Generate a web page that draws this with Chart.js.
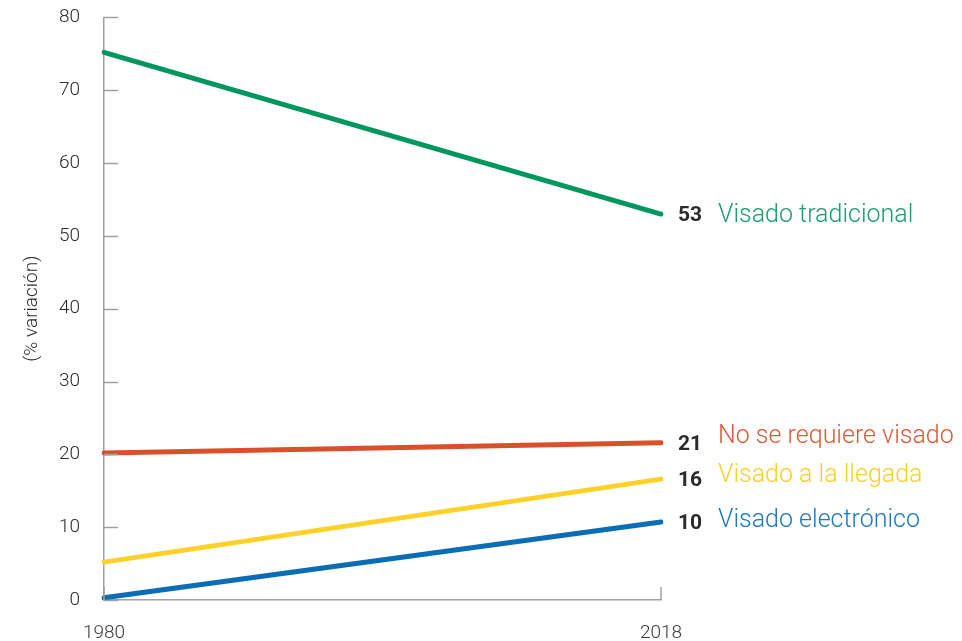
<!DOCTYPE html>
<html>
<head>
<meta charset="utf-8">
<script src="https://cdn.jsdelivr.net/npm/chart.js@4/dist/chart.umd.min.js"></script>
<style>
  html, body { margin: 0; padding: 0; background: #fff; overflow: hidden; }
  #clip { width: 962px; height: 641px; overflow: hidden; position: relative; }
  #wrap { width: 962px; height: 659px; position: absolute; top: -18px; left: 0; }
</style>
</head>
<body>
<div id="clip"><div id="wrap"><canvas id="visa-chart"></canvas></div></div>
<script>
// ── Data ────────────────────────────────────────────────────────────────────
const years       = ['1980', '2018'];
const tradicional = [75.2, 53.0];
const noRequiere  = [20.2, 21.6];
const llegada     = [5.2, 16.6];
const electronico = [0.3, 10.7];

const seriesNames  = ['Visado tradicional', 'No se requiere visado', 'Visado a la llegada', 'Visado electrónico'];
const endLabels    = ['53', '21', '16', '10'];
const lineColors   = ['#00975f', '#d9512c', '#fdd12a', '#0a6db5'];
const textColors   = ['#1c9d6c', '#dc5a36', '#f8cf2c', '#1d78c0'];

const FONT = 'Roboto, "Liberation Sans", Arial, sans-serif';

// inward tick marks + end labels
const decorPlugin = {
  id: 'decor',
  afterDraw(chart) {
    const { ctx, chartArea } = chart;
    const y = chart.scales.y, x = chart.scales.x;
    ctx.save();
    ctx.strokeStyle = '#a0a0a0';
    ctx.lineWidth = 1.5;
    y.ticks.forEach(t => {
      const py = Math.round(y.getPixelForValue(t.value)) + 0.5;
      ctx.beginPath();
      ctx.moveTo(chartArea.left, py);
      ctx.lineTo(chartArea.left + 14, py);
      ctx.stroke();
    });
    years.forEach((_, i) => {
      const px = Math.round(x.getPixelForValue(i));
      ctx.beginPath();
      ctx.moveTo(px, chartArea.bottom);
      ctx.lineTo(px, chartArea.bottom - 13);
      ctx.stroke();
    });

    // labels at line ends
    const nudges = [2, -6, -3, -1];
    chart.data.datasets.forEach((ds, i) => {
      const meta = chart.getDatasetMeta(i);
      const pt = meta.data[meta.data.length - 1];
      ctx.textBaseline = 'middle';
      ctx.textAlign = 'left';
      ctx.font = 'bold 21px ' + FONT;
      ctx.fillStyle = '#2b2b2b';
      ctx.fillText(endLabels[i], pt.x + 17, pt.y + 2);
      ctx.font = '300 25px ' + FONT;
      ctx.fillStyle = textColors[i];
      ctx.fillText(seriesNames[i], pt.x + 57, pt.y + nudges[i]);
    });
    ctx.restore();
  }
};

const ctx = document.getElementById('visa-chart').getContext('2d');
new Chart(ctx, {
  type: 'line',
  data: {
    labels: years,
    datasets: [tradicional, noRequiere, llegada, electronico].map((data, i) => ({
      label: seriesNames[i],
      data,
      borderColor: lineColors[i],
      borderWidth: 5,
      borderCapStyle: 'round',
      pointRadius: 0,
      tension: 0,
      fill: false,
    })),
  },
  options: {
    responsive: true,
    maintainAspectRatio: false,
    animation: false,
    layout: { padding: { top: 0, right: 301, bottom: 0, left: 0 } },
    plugins: {
      legend: { display: false },
      tooltip: { enabled: false },
    },
    scales: {
      x: {
        offset: false,
        afterFit: s => { s.height = 41; },
        grid: { display: false, drawTicks: false },
        border: { display: true, color: '#a0a0a0', width: 1.5 },
        ticks: { color: '#3a3a3a', padding: 22, maxRotation: 0, font: { family: FONT, size: 19, weight: '300' } },
      },
      y: {
        min: 0,
        max: 80,
        afterFit: s => { s.width = 104; },
        grid: { display: false, drawTicks: false },
        border: { display: true, color: '#a0a0a0', width: 1.5 },
        ticks: { stepSize: 10, color: '#2b2b2b', padding: 24, font: { family: FONT, size: 19, weight: '300' } },
        title: {
          display: true,
          text: '(% variación)',
          color: '#2b2b2b',
          padding: { top: 21, bottom: 0 },
          font: { family: FONT, size: 19, weight: '300' },
        },
      },
    },
  },
  plugins: [decorPlugin],
});
</script>
</body>
</html>
